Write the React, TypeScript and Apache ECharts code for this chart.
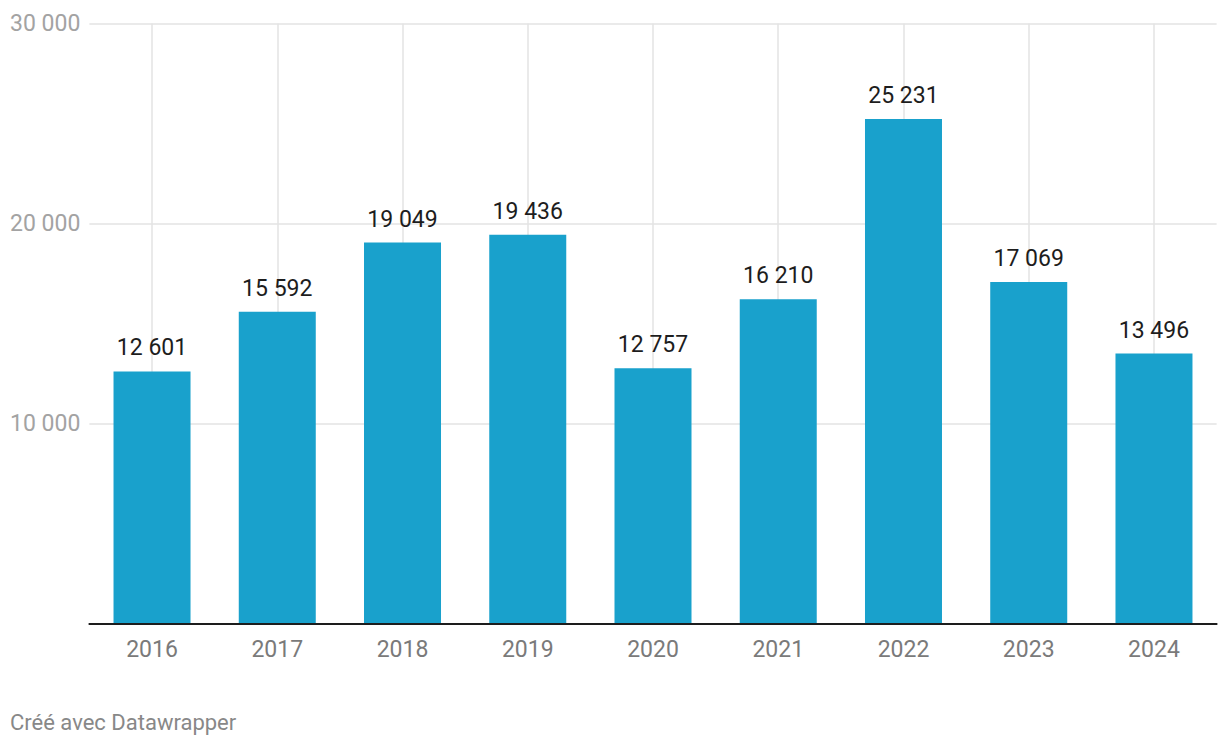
import React, { useEffect, useRef } from "react";
import * as echarts from "echarts";

const years = ["2016", "2017", "2018", "2019", "2020", "2021", "2022", "2023", "2024"];
const values = [12601, 15592, 19049, 19436, 12757, 16210, 25231, 17069, 13496];
const yTicks = [0, 10000, 20000, 30000];
const footer = "Créé avec Datawrapper";

const fmt = (v: number) => {
  const s = String(Math.round(v));
  return s.replace(/\B(?=(\d{3})+(?!\d))/g, " ");
};

export default function App() {
  const ref = useRef<HTMLDivElement>(null);
  useEffect(() => {
    document.body.style.margin = "0";
    if (!ref.current) return;
    const chart = echarts.init(ref.current, null, { renderer: "svg" });
    chart.setOption({
      animation: false,
      textStyle: { fontFamily: "Roboto" },
      grid: { left: 89.4, right: 3.4, top: 23.5, bottom: 122.5 },
      xAxis: {
        type: "category",
        data: years,
        boundaryGap: true,
        axisLine: { show: true, lineStyle: { color: "#1d1d1d", width: 2 } },
        axisTick: { show: false },
        splitLine: { show: false },
        axisLabel: { color: "#7a7a7a", fontSize: 23, margin: 14, fontFamily: "Roboto" },
        z: 10,
      },
      yAxis: {
        type: "value",
        min: yTicks[0],
        max: yTicks[yTicks.length - 1],
        interval: 10000,
        axisLine: { show: false },
        axisTick: { show: false },
        splitLine: { show: true, lineStyle: { color: "#e3e3e3", width: 1.5 } },
        axisLabel: {
          color: "#a3a3a3",
          fontSize: 23,
          align: "left",
          margin: 79.4,
          fontFamily: "Roboto",
          formatter: (v: number) => (v === 0 ? "" : fmt(v)),
        },
      },
      series: [
        {
          type: "line",
          data: [],
          z: 0,
          silent: true,
          markLine: {
            silent: true,
            z: 0,
            symbol: "none",
            label: { show: false },
            lineStyle: { color: "#e3e3e3", width: 1.5, type: "solid" },
            data: years.map((y) => ({ xAxis: y })),
          },
        },
        {
          type: "bar",
          data: values,
          z: 3,
          barWidth: 77,
          itemStyle: { color: "#19a1cc" },
          label: {
            show: true,
            position: "top",
            distance: 12,
            color: "#1d1d1d",
            fontSize: 23,
            fontFamily: "Roboto",
            formatter: (p: any) => fmt(p.value),
          },
        },
      ],
      graphic: [
        {
          type: "text",
          left: 10,
          top: 711,
          style: { text: footer, fill: "#888888", fontSize: 22, fontFamily: "Roboto" },
        },
      ],
    });
    return () => chart.dispose();
  }, []);
  return <div ref={ref} style={{ width: 1220, height: 746 }} />;
}
